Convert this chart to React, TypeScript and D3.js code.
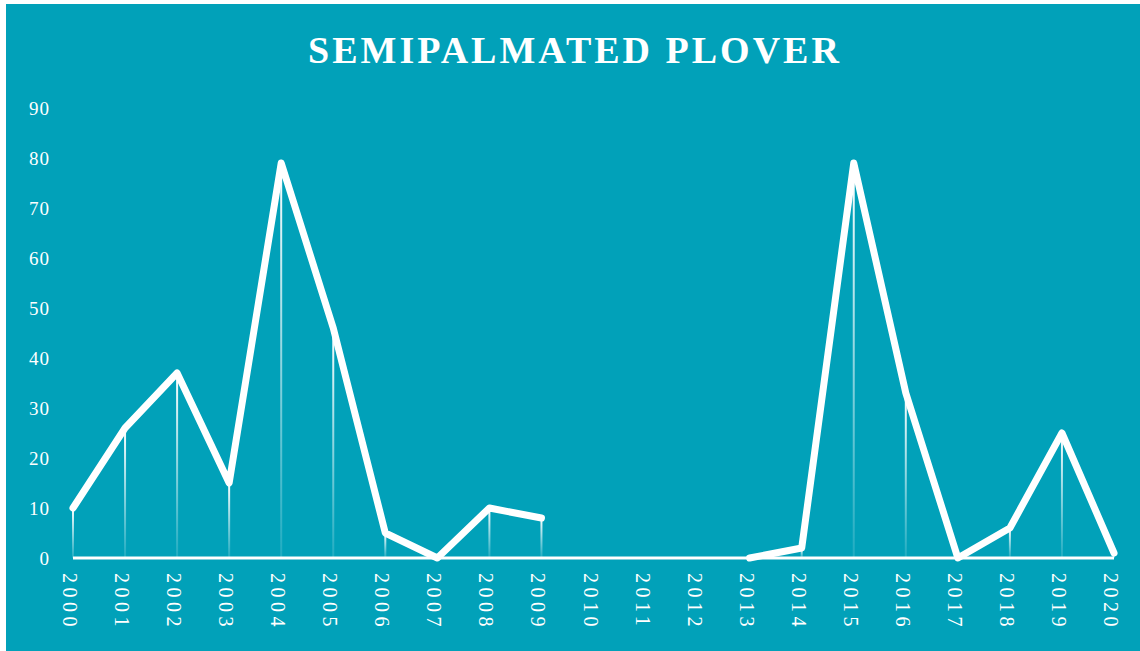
import React from "react";
import * as d3 from "d3";

const years = [2000, 2001, 2002, 2003, 2004, 2005, 2006, 2007, 2008, 2009, 2010,
  2011, 2012, 2013, 2014, 2015, 2016, 2017, 2018, 2019, 2020];
const counts: (number | null)[] = [10, 26, 37, 15, 79, 46, 5, 0, 10, 8, null,
  null, null, 0, 2, 79, 33, 0, 6, 25, 1];
const yTicks = [0, 10, 20, 30, 40, 50, 60, 70, 80, 90];

const W = 1140;
const H = 651;
const TEAL = "#01a1b9";
const FONT = "'Liberation Serif', 'DejaVu Serif', serif";

export default function App() {
  const x = d3.scaleLinear().domain([2000, 2020]).range([73, 1114]);
  const y = d3.scaleLinear().domain([0, 90]).range([558, 108]);

  const points = years.map((yr, i) => ({ yr, v: counts[i] }));

  const line = d3
    .line<{ yr: number; v: number | null }>()
    .defined(d => d.v !== null)
    .x(d => x(d.yr))
    .y(d => y(d.v as number));

  return (
    <svg
      width={W}
      height={H}
      style={{ position: "absolute", left: 0, top: 0, display: "block" }}
    >
      <defs>
        <linearGradient id="drop" x1="0" y1="0" x2="0" y2="1">
          <stop offset="0%" stopColor="#fff" stopOpacity={1} />
          <stop offset="100%" stopColor="#fff" stopOpacity={0.12} />
        </linearGradient>
      </defs>
      <rect x={0} y={0} width={W} height={H} fill="#fff" />
      <rect x={6} y={4} width={W - 6} height={H - 4} fill={TEAL} />

      <text
        x={575}
        y={63}
        textAnchor="middle"
        fill="#fff"
        fontFamily={FONT}
        fontWeight="bold"
        fontSize={38}
        letterSpacing={3}
      >
        SEMIPALMATED PLOVER
      </text>

      {/* y labels */}
      {yTicks.map(t => (
        <text
          key={t}
          x={50}
          y={y(t)}
          dy="0.35em"
          textAnchor="end"
          fill="#fff"
          fontFamily={FONT}
          fontSize={19}
          letterSpacing={1}
        >
          {t}
        </text>
      ))}

      {/* drop lines */}
      {points
        .filter(d => d.v !== null && (d.v as number) > 0)
        .map(d => (
          <rect
            key={d.yr}
            x={x(d.yr) - 1}
            y={y(d.v as number)}
            width={2}
            height={y(0) - y(d.v as number)}
            fill="url(#drop)"
          />
        ))}

      {/* baseline */}
      <line
        x1={x(2000)}
        x2={x(2020)}
        y1={y(0)}
        y2={y(0)}
        stroke="#fff"
        strokeWidth={3}
      />

      <path
        d={line(points) || ""}
        fill="none"
        stroke="#fff"
        strokeWidth={7}
        strokeLinejoin="round"
        strokeLinecap="round"
      />

      {/* x labels */}
      {years.map(yr => (
        <text
          key={yr}
          transform={`translate(${x(yr) - 3},573) rotate(90)`}
          dy="0.35em"
          fill="#fff"
          fontFamily={FONT}
          fontSize={20}
          letterSpacing={4.5}
        >
          {yr}
        </text>
      ))}
    </svg>
  );
}
